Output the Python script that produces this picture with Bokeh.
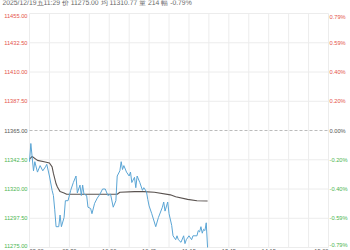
from bokeh.plotting import figure
from bokeh.models import Range1d
from bokeh.core.properties import value
from bokeh.embed import file_html
from bokeh.resources import INLINE

# ---------------- data ----------------
price_times = ["09:00","09:01","09:03","09:04","09:06","09:08","09:10","09:12","09:13","09:15",
               "09:17","09:18","09:19","09:20","09:22","09:23","09:24","09:26","09:27","09:29",
               "09:31","09:33","09:35","09:36","09:38","09:39","09:40","09:41","09:43","09:44",
               "09:46","09:47","09:49","09:51","09:53","09:55","09:57","09:59","10:01","10:03",
               "10:05","10:06","10:08","10:09","10:10","10:11","10:13","10:30","10:31","10:32",
               "10:34","10:35","10:36","10:38","10:40","10:41","10:43","10:44","10:45","10:47",
               "10:50","10:52","10:55","10:56","10:57","10:59","11:00","11:02","11:03","11:05",
               "11:06","11:07","11:09","11:11","11:12","11:13","11:15","11:17","11:18","11:21",
               "11:22","11:23","11:24","11:25","11:26","11:27","11:28","11:29"]
price_vals = [11341,11355,11334,11341,11333,11338,11334,11337,11339,11330,
              11319,11315,11304,11291,11291,11300,11291,11298,11311,11311,
              11319,11325,11330,11317,11323,11315,11323,11316,11315,11306,
              11305,11301,11309,11313,11316,11320,11320,11315,11316,11306,
              11311,11330,11334,11341,11335,11338,11333,11330,11333,11325,
              11329,11321,11330,11325,11319,11321,11318,11312,11307,11301,
              11291,11298,11306,11310,11303,11310,11301,11292,11284,11281,
              11284,11281,11279,11284,11278,11281,11284,11281,11284,11284,
              11288,11287,11291,11286,11289,11288,11294,11275]

avg_times = ["09:00","09:02","09:06","09:11","09:15","09:17","09:18","09:20","09:21","09:23",
             "09:26","09:28","10:06","10:08","10:34","10:41","10:49","11:01","11:05","11:14",
             "11:21","11:29"]
avg_vals = [11343,11345,11342,11341,11340,11337,11332,11324,11321.5,11318,
            11317,11316,11316,11317.5,11318,11318,11317.5,11315.5,11314,11312,
            11311,11310.77]

prev_close = 11365.0
price_levels = [11455.00, 11432.50, 11410.00, 11387.50, 11365.00, 11342.50, 11320.00, 11297.50, 11275.00]
pct_labels = ["0.79%", "0.59%", "0.40%", "0.20%", "0.00%", "-0.20%", "-0.40%", "-0.59%", "-0.79%"]
x_tick_times = ["09:00", "09:30", "10:00", "10:45", "11:15", "13:45", "14:15", "15:00"]
header = "2025/12/19五11:29 价 11275.00 均 11310.77 量 214 幅 -0.79%"

# session minute index (09:00-10:15, 10:30-11:30, 13:30-15:00)
def sess(t):
    h, m = map(int, t.split(":"))
    mins = h * 60 + m - 540
    if mins >= 270:
        return mins - 135
    if mins >= 90:
        return mins - 15
    return mins

RED = "#e5534b"
GREEN = "#4cb552"
GRAY = "#555555"
FONT = value("Liberation Sans")
FS = "5.7px"

W, H = 350, 250
L, R, T, B = 29, 22, 13, 3          # plot-area margins in px
XMIN, XMAX = 0, 225
YMIN, YMAX = price_levels[-1], price_levels[0]
kx = (W - L - R) / (XMAX - XMIN)
ky = (H - T - B) / (YMAX - YMIN)

p = figure(width=W, height=H, output_backend="svg", toolbar_location=None,
           x_axis_type=None, y_axis_type=None,
           x_range=Range1d(XMIN - L / kx, XMAX + R / kx),
           y_range=Range1d(YMIN - B / ky, YMAX + T / ky),
           min_border=0)
p.outline_line_color = None
p.xgrid.visible = False
p.ygrid.visible = False
p.background_fill_color = "white"
p.border_fill_color = "white"

grid_col = "#ececec"
vticks = list(range(XMIN, XMAX + 1, 15))
p.segment(x0=vticks, x1=vticks, y0=[YMIN] * len(vticks), y1=[YMAX] * len(vticks),
          line_color=grid_col, line_width=1)
hl = [v for v in price_levels if v != prev_close]
p.segment(x0=[XMIN] * len(hl), x1=[XMAX] * len(hl), y0=hl, y1=hl,
          line_color=grid_col, line_width=1)
p.segment(x0=[XMIN], x1=[XMAX], y0=[prev_close], y1=[prev_close],
          line_color="#bbbbbb", line_dash="3 2", line_width=1)

p.line([sess(t) for t in avg_times], avg_vals, line_color="#5a5350", line_width=1.1)
p.line([sess(t) for t in price_times], price_vals, line_color="#5aa5d5", line_width=1)

def colr(v):
    return RED if v > prev_close else (GREEN if v < prev_close else GRAY)

n = len(price_levels)
for i, v in enumerate(price_levels):
    bl = "top" if i == 0 else ("bottom" if i == n - 1 else "middle")
    p.text(x=[XMIN], y=[v], text=["%.2f" % v], text_align="right", text_baseline=bl,
           x_offset=-2, text_color=colr(v), text_font=FONT, text_font_size=FS)
    p.text(x=[XMAX], y=[v], text=[pct_labels[i]], text_align="left", text_baseline=bl,
           x_offset=1, text_color=colr(v), text_font=FONT, text_font_size=FS)

k = len(x_tick_times)
for j, t in enumerate(x_tick_times):
    al = "left" if j == 0 else ("right" if j == k - 1 else "center")
    p.text(x=[sess(t)], y=[YMIN], text=[t], text_align=al, text_baseline="top",
           y_offset=0, text_color="#555555", text_font=FONT, text_font_size=FS)

p.text(x=[XMIN - L / kx], y=[YMAX + T / ky], text=[header], text_align="left",
       text_baseline="middle", x_offset=2, y_offset=1.5, text_color="#666666",
       text_font=FONT, text_font_size="6.8px")

open("out.html", "w").write(file_html(p, INLINE))
